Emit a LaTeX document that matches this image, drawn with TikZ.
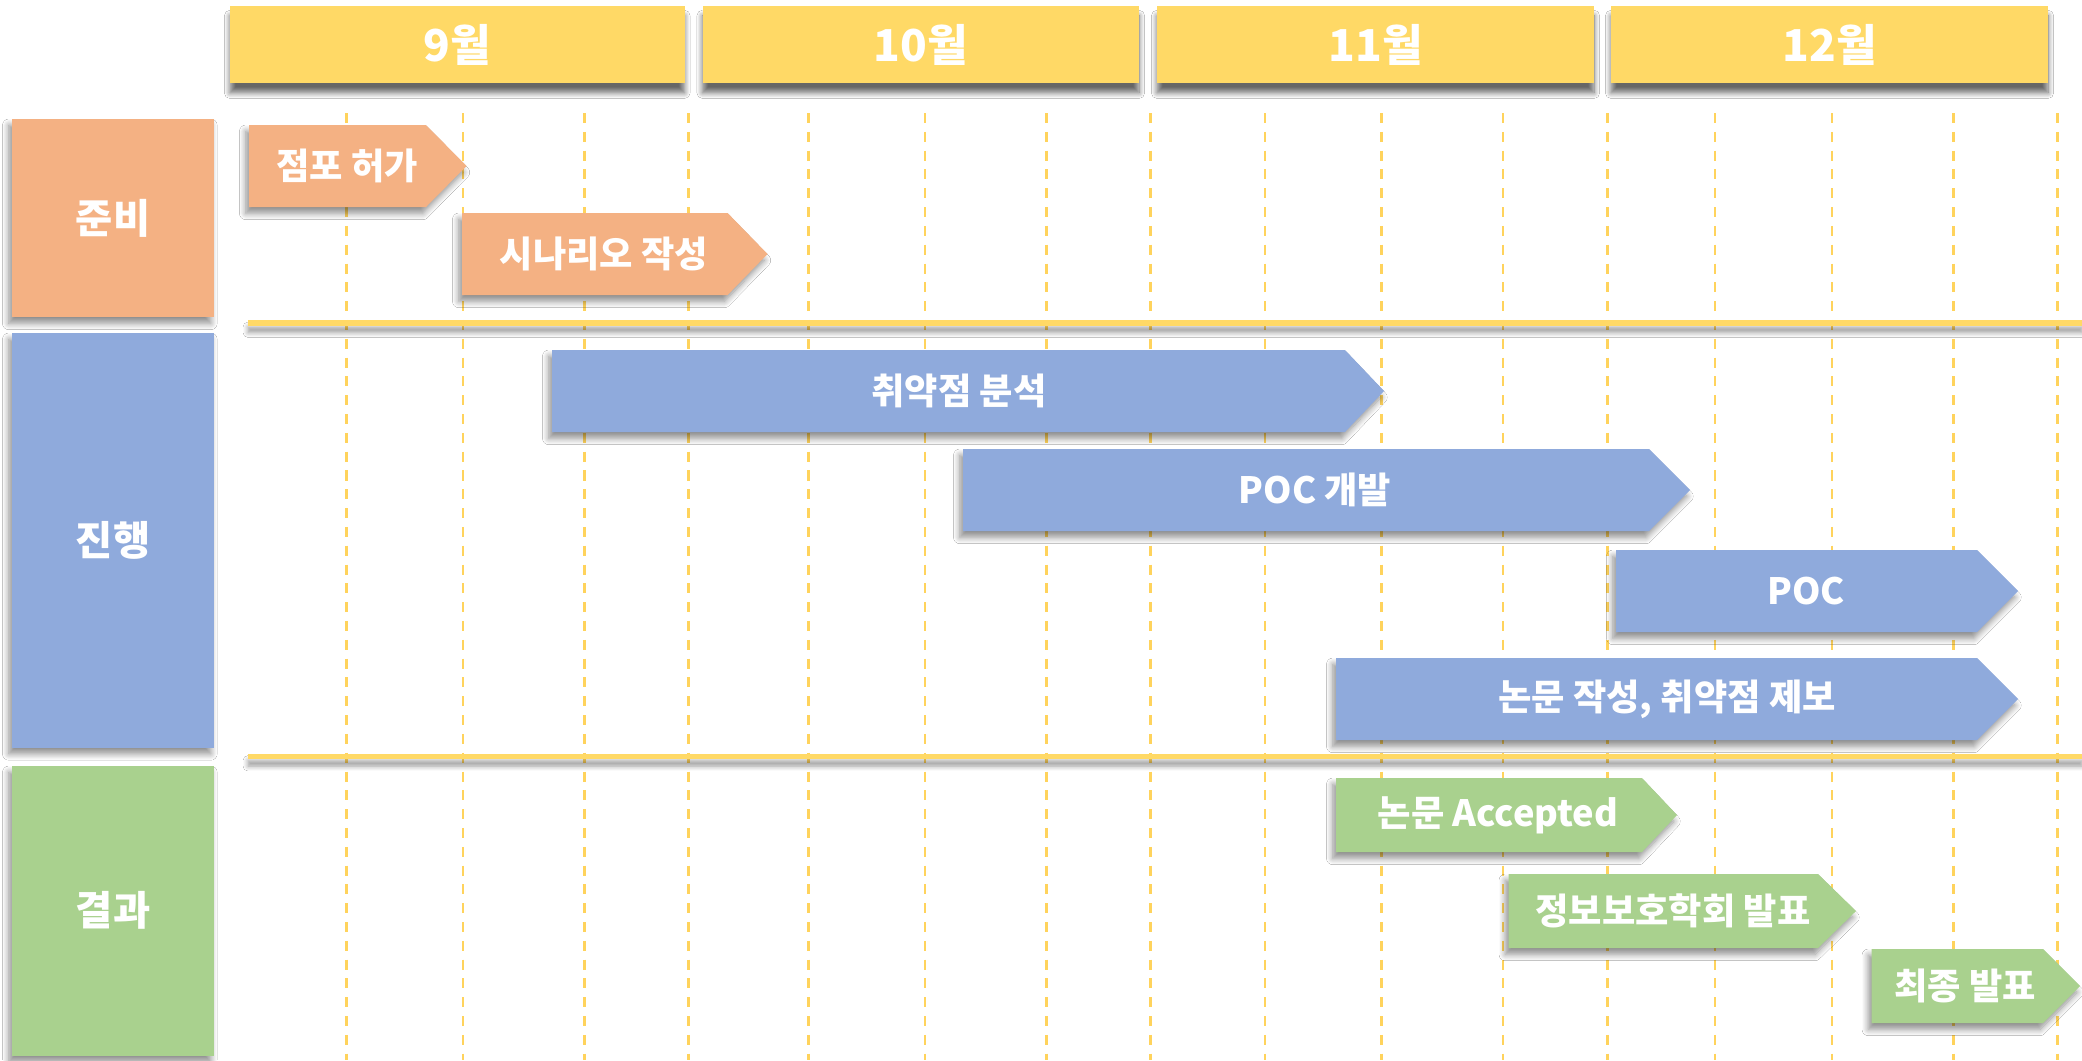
\documentclass[tikz,border=0pt]{standalone}
\usepackage{fontspec}
\setmainfont{Noto Sans CJK KR}
\usetikzlibrary{shadows.blur}
\definecolor{hdryellow}{HTML}{FFD966}
\definecolor{dashyellow}{HTML}{FFD35C}
\definecolor{prepc}{HTML}{F4B183}
\definecolor{progc}{HTML}{8FAADC}
\definecolor{resc}{HTML}{A9D18E}
\tikzset{
  softshadow/.style={blur shadow={shadow xshift=-0.9pt, shadow yshift=-1.8pt, shadow blur radius=1.8pt, shadow blur steps=8, shadow opacity=45}},
  hdrshadow/.style={blur shadow={shadow xshift=0pt, shadow yshift=-2.8pt, shadow blur radius=1.6pt, shadow blur steps=8, shadow opacity=60}},
  hdrbox/.style={fill=hdryellow, hdrshadow},
  hdrtext/.style={text=white, font=\fontsize{12.5pt}{14pt}\selectfont\bfseries, inner sep=0pt},
  catbox/.style={softshadow},
  cattext/.style={text=white, font=\fontsize{11.5pt}{14pt}\selectfont\bfseries, inner sep=0pt},
  tasktext/.style={text=white, font=\fontsize{10.3pt}{12pt}\selectfont\bfseries, inner sep=0pt},
  gridline/.style={draw=dashyellow, line width=0.7pt, dash pattern=on 2.85pt off 2.5pt},
  sepline/.style={fill=hdryellow, blur shadow={shadow xshift=0pt, shadow yshift=-2pt, shadow blur radius=1.4pt, shadow blur steps=6, shadow opacity=40}},
}
% #1 x start, #2 x shoulder, #3 x tip, #4 y top, #5 y bottom, #6 colour, #7 text x, #8 text, #9 name
\newcommand\ganttbar[9]{%
  \path[fill=#6, softshadow] (#1,#4) -- (#2,#4) -- (#3,{(#4+#5)/2}) -- (#2,#5) -- (#1,#5) -- cycle;
  \node[tasktext] (#9) at (#7,{(#4+#5)/2}) {#8};
}
\begin{document}
\begin{tikzpicture}[x=0.01cm, y=-0.01cm]
\fill[white] (0,0) rectangle (2082,1060);
\useasboundingbox (0,0) rectangle (2082,1060);

% dashed grid lines
\foreach \gx in {346.5,463,584.3,688.5,808.5,925,1046.4,1150.5,1265,1381.5,1503,1607.5,1715,1832,1953.3,2057.3}
  \draw[gridline] (\gx,113) -- (\gx,1060);

% month headers
\path[hdrbox] (230,6) rectangle (684.5,83);
\node[hdrtext] (m9) at (457.2,44.5) {9월};
\path[hdrbox] (702.5,6) rectangle (1139,83);
\node[hdrtext] (m10) at (920.7,44.5) {10월};
\path[hdrbox] (1157,6) rectangle (1594,83);
\node[hdrtext] (m11) at (1375.5,44.5) {11월};
\path[hdrbox] (1611,6) rectangle (2048,83);
\node[hdrtext] (m12) at (1829.5,44.5) {12월};

% category boxes
\path[fill=prepc, catbox] (12,119) rectangle (214,317);
\node[cattext] (cprep) at (113,218) {준비};
\path[fill=progc, catbox] (12,333) rectangle (214,747.5);
\node[cattext] (cprog) at (113,540) {진행};
\path[fill=resc, catbox] (12,766) rectangle (214,1055.5);
\node[cattext] (cres) at (113,910.5) {결과};

% separator lines
\path[sepline] (248,320) rectangle (2082,325.5);
\path[sepline] (248,753.5) rectangle (2082,759);

% task bars
\ganttbar{249}{426}{466.5}{125}{207}{prepc}{347}{점포 허가}{t1}
\ganttbar{462}{727.6}{767.5}{213}{295}{prepc}{604}{시나리오 작성}{t2}
\ganttbar{552}{1345}{1384}{350}{432}{progc}{959}{취약점 분석}{t3}
\ganttbar{963}{1649}{1690}{449}{531}{progc}{1315}{POC 개발}{t4}
\ganttbar{1616}{1977}{2018}{550}{632}{progc}{1806}{POC}{t5}
\ganttbar{1336}{1977}{2018}{658}{740}{progc}{1667}{논문 작성, 취약점 제보}{t6}
\ganttbar{1336}{1642}{1677}{778}{852}{resc}{1498}{논문 Accepted}{t7}
\ganttbar{1508.5}{1818}{1856}{874}{948}{resc}{1673}{정보보호학회 발표}{t8}
\ganttbar{1871.5}{2043}{2080}{949}{1023}{resc}{1965}{최종 발표}{t9}
\end{tikzpicture}
\end{document}
